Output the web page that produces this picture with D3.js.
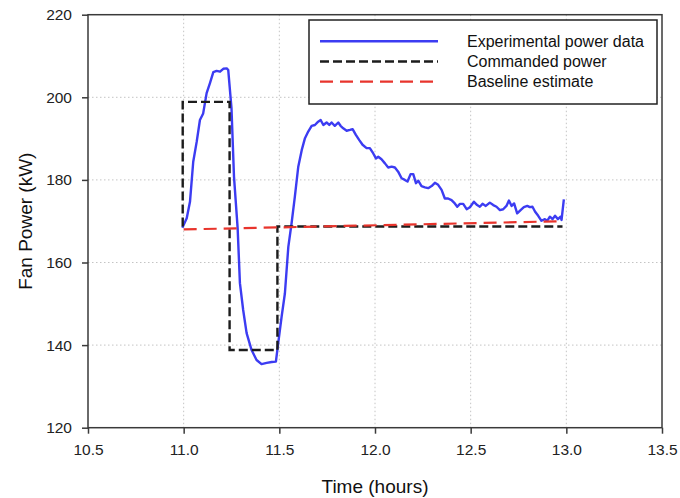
<!DOCTYPE html>
<html>
<head>
<meta charset="utf-8">
<script src="https://cdn.jsdelivr.net/npm/d3@7"></script>
<style>
  html, body { margin: 0; padding: 0; background: #fff; }
  svg { display: block; font-family: "Liberation Sans", Arial, sans-serif; }
</style>
</head>
<body>
<svg id="chart" width="680" height="498"></svg>
<script>
// ---- Data ----
const expTime = [10.993, 11.016, 11.033, 11.05, 11.068, 11.085, 11.102, 11.12, 11.137, 11.155, 11.172, 11.19, 11.207, 11.225, 11.233,
  11.25, 11.263, 11.282, 11.294, 11.311, 11.329, 11.355, 11.381, 11.407, 11.434, 11.46, 11.482,
  11.494, 11.512, 11.529, 11.547, 11.564, 11.581, 11.599, 11.617, 11.634, 11.651, 11.669, 11.686, 11.703, 11.716, 11.73, 11.747,
  11.761, 11.773, 11.79, 11.808, 11.82, 11.834, 11.852, 11.869, 11.883, 11.9, 11.917, 11.935, 11.956, 11.973, 11.991, 12.005,
  12.017, 12.034, 12.052, 12.069, 12.087, 12.104, 12.121, 12.139, 12.156, 12.17, 12.186, 12.2, 12.214, 12.226, 12.243, 12.261,
  12.278, 12.296, 12.313, 12.33, 12.348, 12.365, 12.382, 12.4, 12.417, 12.43, 12.444, 12.461, 12.479, 12.496, 12.517, 12.534,
  12.548, 12.562, 12.579, 12.6, 12.618, 12.635, 12.653, 12.67, 12.687, 12.7, 12.714, 12.727, 12.743, 12.761, 12.778, 12.796,
  12.809, 12.823, 12.837, 12.853, 12.87, 12.888, 12.9, 12.914, 12.928, 12.941, 12.956, 12.97, 12.975, 12.987];
const expPower = [168.4, 170.7, 174.7, 184.4, 189.2, 194.5, 196.1, 201.0, 203.4, 206.1, 206.4, 206.2, 206.9, 207.0, 206.6,
  197.3, 180.8, 168.4, 155.0, 148.5, 142.9, 138.8, 136.4, 135.4, 135.7, 135.9, 136.0,
  140.4, 146.9, 152.5, 163.8, 169.5, 175.9, 183.2, 187.2, 190.1, 191.7, 193.1, 193.3, 194.1, 194.5, 193.3, 193.9,
  193.3, 193.9, 193.1, 193.9, 193.1, 192.5, 191.9, 192.1, 192.3, 190.9, 189.7, 188.5, 187.7, 187.7, 186.4, 185.2,
  185.6, 185.0, 184.0, 183.0, 183.2, 183.0, 182.0, 180.4, 180.0, 179.6, 181.4, 181.4, 179.2, 179.8, 178.5, 178.2,
  178.0, 178.5, 179.3, 178.8, 177.6, 175.5, 175.5, 175.1, 174.3, 173.5, 174.2, 174.2, 172.9, 173.4, 174.7, 173.9,
  173.5, 174.2, 173.7, 174.5, 173.9, 173.5, 172.7, 172.9, 173.7, 175.0, 173.7, 174.3, 171.9, 172.7, 173.4, 173.7,
  173.4, 173.5, 172.3, 171.3, 170.1, 170.5, 170.1, 171.1, 170.5, 171.3, 170.5, 171.1, 170.3, 175.3];

const cmdTime  = [10.995, 10.995, 11.24, 11.24, 11.49, 11.49, 12.98];
const cmdPower = [168.7, 198.9, 198.9, 138.8, 138.8, 168.7, 168.7];

const baseTime  = [11.0, 12.98];
const basePower = [168.0, 170.0];

const xTicks = [10.5, 11.0, 11.5, 12.0, 12.5, 13.0, 13.5];
const yTicks = [120, 140, 160, 180, 200, 220];
const xGrid = [11.0, 11.5, 12.0, 12.5, 13.0];
const yGrid = [140, 160, 180, 200];

const seriesNames = ["Experimental power data", "Commanded power", "Baseline estimate"];

// ---- Layout ----
(function () {
const svg = d3.select("#chart");
const pLeft = 88, pRight = 662, pTop = 14.7, pBottom = 427.7;
const x = d3.scaleLinear().domain([10.5, 13.5]).range([pLeft, pRight]);
const y = d3.scaleLinear().domain([120, 220]).range([pBottom, pTop]);

const axisColor = "#3a3a3a";

// gridlines
svg.append("g").selectAll("line").data(xGrid).join("line")
  .attr("x1", d => x(d)).attr("x2", d => x(d)).attr("y1", pTop).attr("y2", pBottom)
  .attr("stroke", "#c4c4c4").attr("stroke-width", 1).attr("stroke-dasharray", "1.5,2.5");
svg.append("g").selectAll("line").data(yGrid).join("line")
  .attr("x1", pLeft).attr("x2", pRight).attr("y1", d => y(d)).attr("y2", d => y(d))
  .attr("stroke", "#c4c4c4").attr("stroke-width", 1).attr("stroke-dasharray", "1.5,2.5");

// series
const line = d3.line().x(d => x(d[0])).y(d => y(d[1]));
svg.append("path").datum(expTime.map((t, i) => [t, expPower[i]]))
  .attr("d", line).attr("fill", "none").attr("stroke", "#3c3cf2").attr("stroke-width", 2.4)
  .attr("stroke-linejoin", "round");
svg.append("path").datum(cmdTime.map((t, i) => [t, cmdPower[i]]))
  .attr("d", line).attr("fill", "none").attr("stroke", "#1c1c1c").attr("stroke-width", 2.4)
  .attr("stroke-dasharray", "9,4");
svg.append("path").datum(baseTime.map((t, i) => [t, basePower[i]]))
  .attr("d", line).attr("fill", "none").attr("stroke", "#e8342c").attr("stroke-width", 2.2)
  .attr("stroke-dasharray", "13,7");

// axes
const xAxis = d3.axisBottom(x).tickValues(xTicks).tickFormat(d3.format(".1f")).tickSize(6).tickPadding(10);
const yAxis = d3.axisLeft(y).tickValues(yTicks).tickFormat(d3.format("d")).tickSize(6).tickPadding(10);
const gx = svg.append("g").attr("transform", `translate(0,${pBottom})`).call(xAxis);
const gy = svg.append("g").attr("transform", `translate(${pLeft},0)`).call(yAxis);
[gx, gy].forEach(g => {
  g.select(".domain").remove();
  g.selectAll(".tick line").attr("stroke", axisColor).attr("stroke-width", 1.5);
  g.selectAll(".tick text").attr("fill", "#222").attr("font-size", "15.5px")
    .attr("font-family", "'Liberation Sans', Arial, sans-serif");
});

// frame
svg.append("rect").attr("x", pLeft).attr("y", pTop).attr("width", pRight - pLeft).attr("height", pBottom - pTop)
  .attr("fill", "none").attr("stroke", axisColor).attr("stroke-width", 1.5);

// axis titles
svg.append("text").attr("x", (pLeft + pRight) / 2).attr("y", 493).attr("text-anchor", "middle")
  .attr("font-size", "19px").attr("fill", "#111").text("Time (hours)");
svg.append("text").attr("transform", `translate(32,${(pTop + pBottom) / 2}) rotate(-90)`)
  .attr("text-anchor", "middle").attr("font-size", "19px").attr("fill", "#111").text("Fan Power (kW)");

// legend
const lg = svg.append("g");
lg.append("rect").attr("x", 309).attr("y", 20).attr("width", 348).attr("height", 84)
  .attr("fill", "#fff").attr("stroke", "#222").attr("stroke-width", 1.5);
const legendStyles = [
  { color: "#3c3cf2", dash: null, w: 2.6 },
  { color: "#1c1c1c", dash: "9,4", w: 2.6 },
  { color: "#e8342c", dash: "13,7", w: 2.2 }
];
seriesNames.forEach((name, i) => {
  const yy = 41.3 + i * 20.2;
  const st = legendStyles[i];
  const l = lg.append("line").attr("x1", 320).attr("x2", 438).attr("y1", yy).attr("y2", yy)
    .attr("stroke", st.color).attr("stroke-width", st.w);
  if (st.dash) l.attr("stroke-dasharray", st.dash);
  lg.append("text").attr("x", 467).attr("y", yy + 5.5).attr("font-size", "16px").attr("fill", "#111").text(name);
});
})();
</script>
</body>
</html>
